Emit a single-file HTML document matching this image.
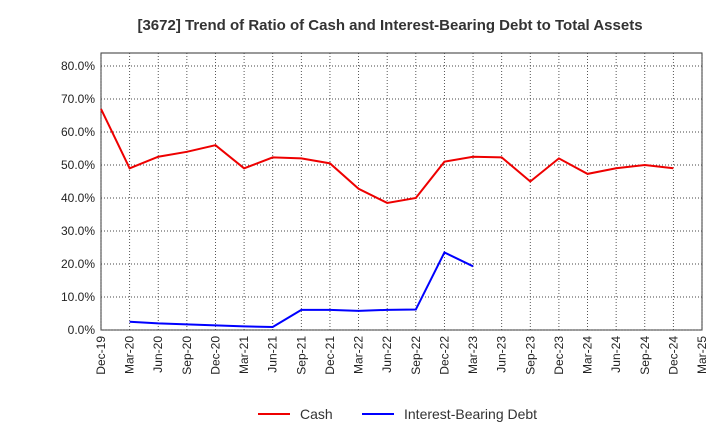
<!DOCTYPE html>
<html><head><meta charset="utf-8"><style>
body{margin:0;background:#fff;font-family:"Liberation Sans",Arial,sans-serif;}
</style></head><body>
<svg id="chart" width="720" height="440" xmlns="http://www.w3.org/2000/svg">
<text x="390" y="30" text-anchor="middle" font-size="15" font-weight="bold" fill="#333">[3672]  Trend of Ratio of Cash and Interest-Bearing Debt to Total Assets</text>
<g id="grid"></g><g id="axes"></g><g id="series"></g>
<g>
<line x1="258" y1="414" x2="290" y2="414" stroke="#e00" stroke-width="2"/>
<text x="300" y="419" font-size="14" fill="#333">Cash</text>
<line x1="362" y1="414" x2="394" y2="414" stroke="#00f" stroke-width="2"/>
<text x="404" y="419" font-size="14" fill="#333">Interest-Bearing Debt</text>
</g>
</svg>
<script>
const categories=["Dec-19","Mar-20","Jun-20","Sep-20","Dec-20","Mar-21","Jun-21","Sep-21","Dec-21","Mar-22","Jun-22","Sep-22","Dec-22","Mar-23","Jun-23","Sep-23","Dec-23","Mar-24","Jun-24","Sep-24","Dec-24","Mar-25"];
const cashValues=[67,49,52.5,54,56,49,52.3,52,50.5,42.8,38.5,40,51,52.5,52.3,45,52,47.3,49,50,49,null];
const debtValues=[null,2.5,2,1.7,1.4,1.1,0.9,6.1,6.1,5.8,6.1,6.2,23.5,19.3,null,null,null,null,null,null,null,null];
const yTicks=[0,10,20,30,40,50,60,70,80];
const NS="http://www.w3.org/2000/svg";
const L=101,R=702,T=53,B=330;
const x=i=>L+i*(R-L)/(categories.length-1);
const y=v=>B-v*3.3;
function mk(tag,attrs,parent){const e=document.createElementNS(NS,tag);for(const k in attrs)e.setAttribute(k,attrs[k]);document.getElementById(parent).appendChild(e);return e;}
let f=mk("rect",{x:L,y:T,width:R-L,height:B-T,fill:"#fff",stroke:"#333","stroke-width":1},"grid");


yTicks.forEach(v=>{
 const g=mk("line",{x1:L,x2:R,y1:y(v),y2:y(v),stroke:"#444","stroke-dasharray":"1,2","stroke-width":0.9},"grid");
 
 
 const t=mk("text",{x:L-6,y:y(v)+4,"text-anchor":"end","font-size":12,fill:"#222"},"axes");
 t.textContent=v.toFixed(1)+"%";
 
 
});
categories.forEach((c,i)=>{
 const g=mk("line",{x1:x(i),x2:x(i),y1:T,y2:B,stroke:"#444","stroke-dasharray":"1,2","stroke-width":0.9},"grid");
 
 
 const t=mk("text",{x:0,y:0,"text-anchor":"end","font-size":12,fill:"#222",transform:`translate(${x(i)+4},${B+6}) rotate(-90)`},"axes");
 t.textContent=c;
 
 
});
function line(vals,color,name){
 let d="";let pen=false;
 vals.forEach((v,i)=>{if(v==null){pen=false;return;}d+=(pen?"L":"M")+x(i)+","+y(v)+" ";pen=true;});
 const p=mk("path",{d:d,fill:"none",stroke:color,"stroke-width":2},"series");
 
 
}
line(cashValues,"#e00","cash-line");
line(debtValues,"#00f","debt-line");
</script>
</body></html>
